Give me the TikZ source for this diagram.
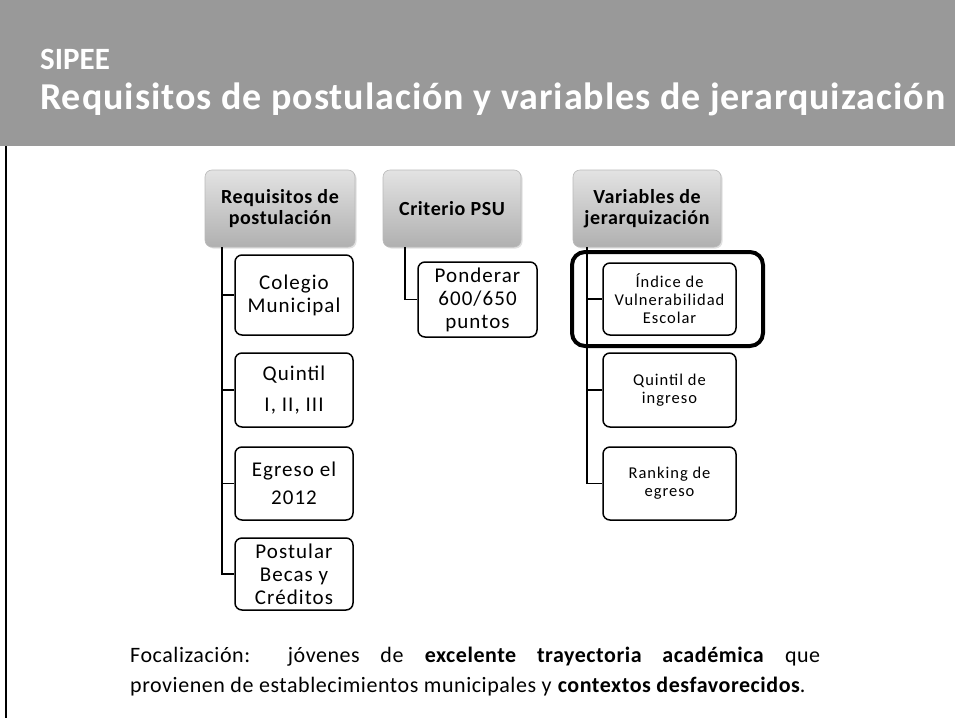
\documentclass[tikz,border=0pt]{standalone}
\usepackage{fontspec}
\setmainfont{Carlito}
\usetikzlibrary{shadows}
\definecolor{bandgray}{HTML}{999999}
\tikzset{
  head/.style={rounded corners=7pt, top color=gray!22, bottom color=gray!62, draw=gray!55, line width=0.6pt,
    drop shadow={shadow xshift=1.5pt, shadow yshift=-1.5pt, fill=gray!40, opacity=0.6},
    align=center, font=\fontsize{20}{21}\selectfont\bfseries\addfontfeature{LetterSpace=3}, inner sep=0pt},
  kid/.style={rounded corners=7pt, draw=black, line width=1.5pt, fill=white, align=center,
    font=\fontsize{21}{23}\selectfont\addfontfeature{LetterSpace=5}, inner sep=0pt},
  kidsmall/.style={kid, font=\fontsize{16.5}{18}\selectfont\addfontfeature{LetterSpace=6}},
  link/.style={draw=black, line width=1.6pt},
}
\begin{document}
\begin{tikzpicture}[x=1pt,y=-1pt]
\useasboundingbox (0,0) rectangle (955,718);
\fill[white] (0,0) rectangle (955,718);
% header band
\fill[bandgray] (0,0) rectangle (955,146);
\draw[line width=1.5pt] (6,146) -- (6,718);
\node[anchor=base west, text=white, font=\fontsize{31}{34}\selectfont\bfseries, inner sep=0pt] (t1) at (40,69) {SIPEE};
\node[anchor=base west, text=white, font=\fontsize{38}{40}\selectfont\bfseries\addfontfeature{LetterSpace=2.5}, inner sep=0pt] (t2) at (40,109) {Requisitos de postulación y variables de jerarquización};
% header boxes
\node[head, minimum width=150pt, minimum height=77pt] (H1) at (280,208.5) {Requisitos de\\postulación};
\node[head, minimum width=138pt, minimum height=77pt] (H2) at (452,208.5) {Criterio PSU};
\node[head, minimum width=148pt, minimum height=77pt] (H3) at (647,208.5) {Variables de\\jerarquización};
% column 1
\node[kid, minimum width=118pt, minimum height=80pt] (C1) at (294,295) {Colegio\\Municipal};
\node[kid, minimum width=118pt, minimum height=74pt, font=\fontsize{21}{31}\selectfont\addfontfeature{LetterSpace=5}] (C2) at (294,390) {Quintil\\I, II, III};
\node[kid, minimum width=118pt, minimum height=73pt, font=\fontsize{21}{28}\selectfont\addfontfeature{LetterSpace=5}] (C3) at (294,483.5) {Egreso el\\2012};
\node[kid, minimum width=118pt, minimum height=72pt] (C4) at (294,574) {Postular\\Becas y\\Créditos};
% column 2
\node[kid, minimum width=119pt, minimum height=75pt] (P1) at (477.5,299.5) {Ponderar\\600/650\\puntos};
% column 3
\node[kidsmall, minimum width=133pt, minimum height=72pt] (V1) at (669.5,299) {Índice de\\Vulnerabilidad\\Escolar};
\node[kidsmall, minimum width=133pt, minimum height=74pt] (V2) at (669.5,390) {Quintil de\\ingreso};
\node[kidsmall, minimum width=133pt, minimum height=73pt] (V3) at (669.5,483.5) {Ranking de\\egreso};
% highlight
\node[draw=black, line width=4pt, rounded corners=13pt, minimum width=191pt, minimum height=94pt, inner sep=0pt] (HL) at (667.5,299) {};
% connectors
\coordinate (a1) at ([xshift=17pt]H1.south west);
\coordinate (a2) at ([xshift=22pt]H2.south west);
\coordinate (a3) at ([xshift=14pt]H3.south west);
\draw[link] (a1) |- (C4.west);
\draw[link] (a1 |- C1.west) -- (C1.west);
\draw[link] (a1 |- C2.west) -- (C2.west);
\draw[link] (a1 |- C3.west) -- (C3.west);
\draw[link] (a2) |- (P1.west);
\draw[link] (a3) |- (V3.west);
\draw[link] (a3 |- V1.west) -- (V1.west);
\draw[link] (a3 |- V2.west) -- (V2.west);
% bottom text
\node[anchor=north west, text width=690pt, align=justify, font=\fontsize{22}{30}\selectfont\addfontfeature{LetterSpace=2.5}, inner sep=0pt] (F) at (130,647)
{Focalización: jóvenes de \textbf{excelente trayectoria académica} que\linebreak provienen de establecimientos municipales y \textbf{contextos desfavorecidos}.};
\end{tikzpicture}
\end{document}
